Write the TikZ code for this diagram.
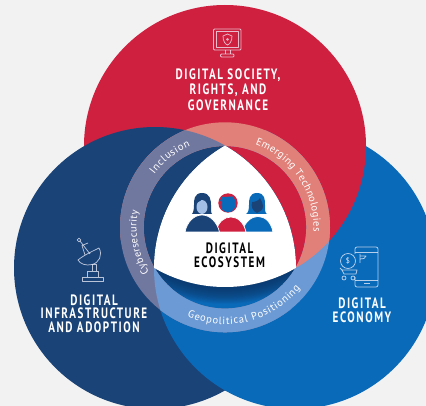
\documentclass[tikz,border=0pt]{standalone}
\usepackage{fontspec}
\usepackage{graphicx}
\setmainfont{PT Sans}
\newfontfamily\ringfont{PT Sans}
\newfontfamily\labfont[LetterSpace=14]{PT Sans Bold}
\usetikzlibrary{decorations.text}
\definecolor{bgc}{HTML}{F2F2F2}
\definecolor{navyc}{HTML}{1A4378}
\definecolor{redc}{HTML}{CF2040}
\definecolor{bluec}{HTML}{0A6ABA}
\definecolor{facec}{HTML}{A3BFE6}
\definecolor{rnavy}{RGB}{113,120,160}
\definecolor{rred}{RGB}{224,128,120}
\definecolor{rblue}{RGB}{108,154,212}
\definecolor{iconc}{RGB}{240,240,250}
\definecolor{shadec}{HTML}{0A3566}
\newcommand{\biglab}[1]{\scalebox{.74}[1]{\labfont\fontsize{15}{15}\selectfont #1}}
\tikzset{
  mainlab/.style={text=white,align=center,inner sep=0pt},
  blacklab/.style={text=black,align=center,inner sep=0pt},
  icon/.style={draw=iconc,opacity=.75,line width=.75pt,fill=none,line join=round},
  ringtext/.style={decoration={text along path,text align={fit to path},
    text={|\ringfont\fontsize{10.5}{12}\selectfont\color{white}|#1}},decorate},
}
\begin{document}
\begin{tikzpicture}[x=1pt,y=-1pt]
\useasboundingbox (0,0) rectangle (426,406);
\fill[bgc] (0,0) rectangle (426,406);
\begin{scope}
\clip (0,0) rectangle (426,406);
\coordinate (cN) at (155,268);
\coordinate (cB) at (295,268);
\coordinate (cR) at (225,146);
\coordinate (cC) at (225,227.3);
\fill[bluec] (cB) circle[radius=141];
\fill[redc] (cR) circle[radius=141];
\fill[navyc] (cN) circle[radius=141];
\begin{scope}[even odd rule]
  \clip (cN) circle[radius=142];
  \clip (-10,-10) rectangle (440,420) (cR) circle[radius=141];
  \fill[bluec] (cB) circle[radius=141];
\end{scope}
% shadow under the triangle
\begin{scope}
  \clip (cC) circle[radius=81.5];
  \clip (cB) circle[radius=141];
  \clip (cN) circle[radius=141];
  \foreach \k in {17,16,...,1}
    \fill[shadec,opacity=.09] (cR) circle[radius=141+\k];
\end{scope}
% ring, in the tints of the three discs
\begin{scope}[even odd rule]
  \clip (cC) circle[radius=105] (cC) circle[radius=81.3];
  \fill[rblue] (cB) circle[radius=141];
  \fill[rred] (cR) circle[radius=141];
  \fill[rnavy] (cN) circle[radius=141];
  \begin{scope}
    \clip (cN) circle[radius=142];
    \clip (-10,-10) rectangle (440,420) (cR) circle[radius=141];
    \fill[rblue] (cB) circle[radius=141];
  \end{scope}
\end{scope}
% central white triangle
\begin{scope}
  \clip (cN) circle[radius=141];
  \clip (cB) circle[radius=141];
  \fill[white] (cR) circle[radius=141];
\end{scope}
% ring labels
\begin{scope}[shift={(225,227.3)},y=1pt]
  \path[ringtext=Inclusion] (143:88.5) arc[start angle=143,end angle=113,radius=88.5];
  \path[ringtext=Emerging Technologies] (70:88.5) arc[start angle=70,end angle=-3,radius=88.5];
  \path[ringtext=Cybersecurity] (211:88.5) arc[start angle=211,end angle=169,radius=88.5];
  \path[ringtext=Geopolitical Positioning] (247:97) arc[start angle=247,end angle=321,radius=97];
\end{scope}
% people
\fill[navyc] (202,193) .. controls (194,193) and (194,200) .. (194,205) .. controls (194,210) and (193,213) .. (192,214) -- (212,214) .. controls (211,213) and (211,210) .. (211,205) .. controls (211,200) and (210,193) .. (202,193) -- cycle;
\fill[facec] (202,207) ellipse[x radius=5.5,y radius=7];
\fill[navyc] (194,203) .. controls (198,203) and (202,200) .. (203,198) .. controls (206,201) and (209,203) .. (210,203) -- (209,197) -- (196,197) -- cycle;
\fill[redc] (228,203) circle[radius=9.7];
\fill[bluec] (228,205) circle[radius=7.3];
\fill[bluec] (220,201) -- (222,197) -- (233,196.5) -- (236,202) -- cycle;
\fill[bluec] (257,193) .. controls (249,193) and (249,200) .. (249,205) .. controls (249,210) and (248,213) .. (246,214) -- (267,214) .. controls (265,213) and (265,210) .. (265,205) .. controls (265,200) and (265,193) .. (257,193) -- cycle;
\fill[navyc] (257,213) .. controls (252,211) and (251,206) .. (252,202) .. controls (256,202) and (259,200) .. (260,198) .. controls (262,202) and (263,204) .. (263,206) .. controls (263,210) and (260,212) .. (257,213) -- cycle;
\fill[bluec,draw=white,line width=.7pt] (242,232) .. controls (245,221) and (252,216.5) .. (258,216.5) .. controls (265,216.5) and (271,222) .. (273,232) -- cycle;
\fill[redc,draw=white,line width=.7pt] (216,232) .. controls (218,222) and (224,217) .. (231,217) .. controls (238,217) and (244,223) .. (246,232) -- cycle;
\fill[navyc,draw=white,line width=.7pt] (185,232) .. controls (187,222) and (194,215) .. (202,215) .. controls (210,215) and (217,222) .. (219.5,232) -- cycle;
% labels
\node[mainlab] (society) at (228,89.5) {\biglab{DIGITAL SOCIETY,}\\[1.6pt]\biglab{RIGHTS, AND}\\[1.6pt]\biglab{GOVERNANCE}};
\node[mainlab] (infra) at (94,313.5) {\biglab{DIGITAL}\\[1.6pt]\biglab{INFRASTRUCTURE}\\[1.6pt]\biglab{AND ADOPTION}};
\node[mainlab] (econ) at (362,310.5) {\biglab{DIGITAL}\\[1.6pt]\biglab{ECONOMY}};
\node[blacklab] (eco) at (229.5,255) {\biglab{DIGITAL}\\[1.6pt]\biglab{ECOSYSTEM}};
% monitor icon
\draw[icon,rounded corners=1pt] (213.5,29) rectangle (241,50);
\draw[icon] (216,31.5) rectangle (238.5,47);
\draw[icon] (225,50) -- (225,54) (230,50) -- (230,54);
\draw[icon,rounded corners=1pt] (220.5,54) rectangle (234,57);
\draw[icon] (227.5,34) -- (232,36) .. controls (232,41) and (230,44) .. (227.5,45) .. controls (225,44) and (223,41) .. (223,36) -- cycle;
\fill[iconc,opacity=.7] (227.5,39.5) circle[radius=1.5];
% dish icon
\draw[icon] (82,281) rectangle (103,277.5) (87,277.5) rectangle (98,271) (92,271) rectangle (96.5,264.5);
\draw[icon] (78,260) .. controls (84,255) and (93,251) .. (99,248) .. controls (103,255) and (99,263) .. (92,264.5) .. controls (86,266) and (80,264) .. (78,260) -- cycle;
\draw[icon] (90,254) -- (80,241);
\draw[icon] (85,255) -- (82,245.5) -- (88,243);
\draw[icon] (79,240) circle[radius=1.8];
% commerce icon
\draw[icon,rounded corners=2pt] (355,247) rectangle (378,287);
\draw[icon] (355,252.5) -- (378,252.5) (355,280) -- (378,280);
\draw[icon] (364,283.5) -- (370,283.5);
\draw[bluec,line width=2.5pt] (355,254) -- (355,277);
\draw[icon] (348,261) circle[radius=7.5];
\draw[icon] (342,270) -- (357,270) -- (356,274) -- (344,274) -- cycle;
\draw[icon] (340,268) -- (342,270);
\draw[icon] (344,278) circle[radius=2] (353,278) circle[radius=2];
\draw[icon] (360,254) -- (360,263) (360,256) -- (366,256) -- (364,258.5) -- (360,259);
\node[text=iconc,inner sep=0pt,font=\fontsize{7.5}{8}\selectfont] (dollar) at (348,261) {\$};
\end{scope}
\end{tikzpicture}
\end{document}
